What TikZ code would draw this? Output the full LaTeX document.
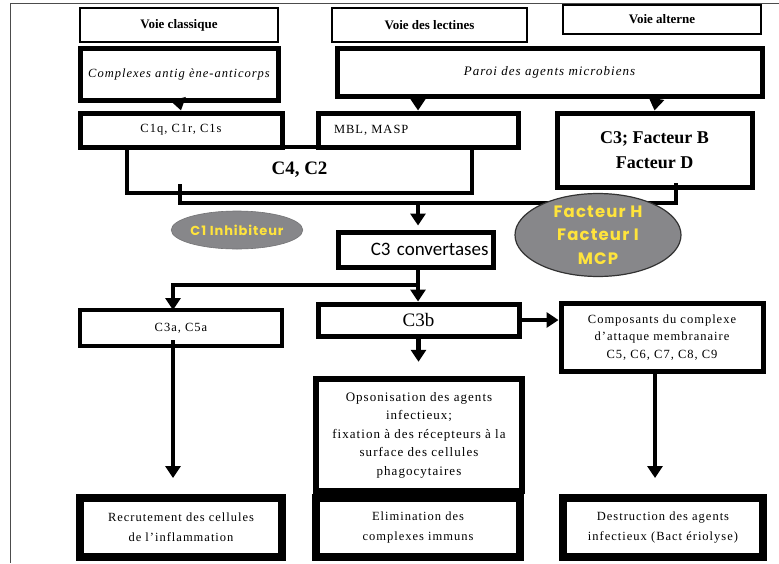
\documentclass[tikz,border=0pt]{standalone}
\usepackage{fontspec}
\setmainfont{Liberation Serif}
\newfontfamily\spf{Liberation Serif}[LetterSpace=8]
\newfontfamily\calfont{Carlito}
\newfontfamily\comicfont{Poppins}[LetterSpace=7]
\usetikzlibrary{arrows.meta,shapes.geometric}
\definecolor{ellgray}{RGB}{135,135,138}
\definecolor{ellyellow}{RGB}{255,228,60}
\begin{document}
\begin{tikzpicture}[x=1pt,y=-1pt,
  box/.style={draw=black,fill=white,inner sep=0pt,line width=#1},
  box/.default=4.5pt,
  body/.style={font=\spf\fontsize{12.5}{18}\selectfont},
  conn/.style={line width=4.5pt,draw=black},
  arr/.style={line width=4.5pt,draw=black,-{Triangle[width=15pt,length=12pt]}},
  ell/.style={ellipse,draw=black!80,line width=1.2pt,fill=ellgray,text=ellyellow,inner sep=0pt}
]
\useasboundingbox (0,0) rectangle (779,563);
\fill[white] (0,0) rectangle (779,563);
% frame
\draw[line width=1pt,black!70] (779,3) -- (10,3) -- (10,563);

% header boxes
\node[box=1.6pt,minimum width=198pt,minimum height=34pt,font=\bfseries\fontsize{13}{15}\selectfont] (hc) at (179,25) {Voie classique};
\node[box=1.6pt,minimum width=195pt,minimum height=34pt,font=\bfseries\fontsize{13}{15}\selectfont] (hl) at (429.5,25) {Voie des lectines};
\node[box=1.6pt,minimum width=198pt,minimum height=29pt,font=\bfseries\fontsize{13}{15}\selectfont] (ha) at (662,19.5) {Voie alterne};

% second row
\node[box=5pt,minimum width=198pt,minimum height=52pt,font=\spf\itshape\fontsize{12.5}{15}\selectfont] (cx) at (179,74) {Complexes antig ène-anticorps};
\node[box=5pt,minimum width=425pt,minimum height=48pt,font=\spf\itshape\fontsize{13}{15}\selectfont] (pa) at (549.5,72) {Paroi des agents microbiens};

% C4, C2 behind
\node[box=4.5pt,minimum width=345pt,minimum height=46pt,font=\bfseries\fontsize{19}{21}\selectfont] (c4) at (299.5,170) {C4, C2};

% third row
\node[box=5pt,minimum width=202pt,minimum height=34pt,body] (c1) at (181,130) {C1q, C1r, C1s};
\node[box=5pt,minimum width=200pt,minimum height=34pt,body,text width=168pt,align=left] (mb) at (418,130) {MBL, MASP};
\node[box=5pt,minimum width=195pt,minimum height=74pt,font=\bfseries\fontsize{18}{25}\selectfont,align=center] (c3f) at (654.5,150) {C3; Facteur B\\Facteur D};

% arrows from top
\coordinate (pa1) at (418,96);
\coordinate (pa2) at (657,96);
\draw[arr] (cx.south) -- (c1.north);
\draw[arr] (pa1) -- (mb.north);
\draw[arr] (pa2) -- (c3f.north);

% bracket line
\coordinate (bk1) at (180,186);
\coordinate (bk2) at (180,203);
\coordinate (bk3) at (676,203);
\coordinate (bk4) at (676,185);
\coordinate (bkm) at (418,203);
\draw[conn,line cap=rect] (bk1) -- (bk2) -- (bk3) -- (bk4);

% C3 convertases
\node[box=5pt,minimum width=155pt,minimum height=35pt,font=\calfont\fontsize{19}{21}\selectfont,text width=146pt,align=right] (cv) at (415.5,249.5) {C3 convertases};
\draw[arr,shorten >=4pt] (bkm) -- (bkm |- cv.north);

% ellipses
\node[ell,draw=ellgray!85!black,line width=0.6pt,minimum width=124pt,minimum height=38pt,font=\comicfont\bfseries\fontsize{13}{15}\selectfont] (inh) at (237,230) {C1 Inhibiteur};
\node[ell,minimum width=166pt,minimum height=76pt,font=\comicfont\bfseries\fontsize{16.5}{23.5}\selectfont,align=center] (fh) at (598,235) {Facteur H\\Facteur I\\MCP};

% lower boxes
\node[box=4pt,minimum width=202pt,minimum height=36pt,body] (c3a) at (181,328) {C3a, C5a};
\node[box=5pt,minimum width=201pt,minimum height=32pt,font=\fontsize{19}{21}\selectfont] (c3b) at (418.5,320) {C3b};
\node[box=5pt,minimum width=202pt,minimum height=68pt,font=\spf\fontsize{12.5}{17.5}\selectfont,align=center] (cp) at (662,337.5) {Composants du complexe\\d’attaque membranaire\\C5, C6, C7, C8, C9};
\node[box=6.5pt,minimum width=206pt,minimum height=112pt,align=center,font=\spf\fontsize{13}{18.5}\selectfont] (op) at (419,435) {\raisebox{-4pt}{\parbox{200pt}{\centering Opsonisation des agents\\infectieux;\\fixation à des récepteurs à la\\surface des cellules\\phagocytaires}}};
\node[box=8pt,minimum width=202pt,minimum height=59pt,font=\spf\fontsize{12.5}{20}\selectfont,align=center] (rc) at (181,527.5) {Recrutement des cellules\\de l’inflammation};
\node[box=8pt,minimum width=204pt,minimum height=59pt,font=\spf\fontsize{12.5}{20}\selectfont,align=center] (el) at (418,527.5) {Elimination des\\complexes immuns};
\node[box=8pt,minimum width=200pt,minimum height=59pt,font=\spf\fontsize{12.5}{20}\selectfont,align=center] (de) at (663,527.5) {Destruction des agents\\infectieux (Bact ériolyse)};

% distribution from convertases
\coordinate (sp1) at (418,285);
\coordinate (sp2) at (173,285);
\coordinate (c3aN) at (173,310);
\coordinate (c3aS) at (173,340);
\coordinate (rcN) at (173,498);
\coordinate (cpS) at (655,371);
\coordinate (deN) at (655,498);
\draw[conn] (sp1 |- cv.south) -- (sp1);
\draw[arr] (sp1) -- (sp2) -- (c3aN);
\draw[arr] (sp1) -- (sp1 |- c3b.north);
\draw[arr] (c3b.east) -- (c3b.east -| cp.west);
\draw[arr,shorten >=14pt] (c3b.south) -- (c3b.south |- op.north);
\draw[arr,shorten >=20pt] (c3aS) -- (rcN);
\draw[arr,shorten >=20pt] (cpS) -- (deN);
\end{tikzpicture}
\end{document}
